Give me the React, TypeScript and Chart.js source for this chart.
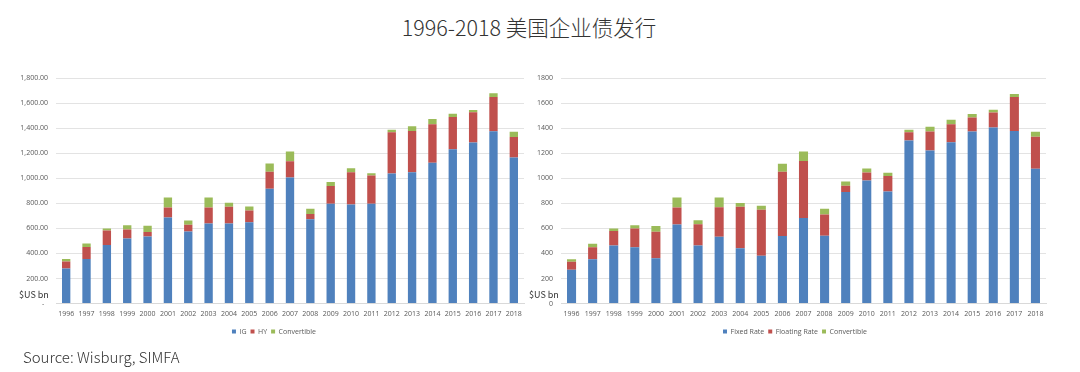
import React, { useEffect, useRef } from "react";
import { Chart, registerables } from "chart.js";

Chart.register(...registerables);

const TITLE = "1996-2018 美国企业债发行";
const SOURCE = "Source: Wisburg, SIMFA";
const UNIT = "$US bn";

const YEARS = ["1996","1997","1998","1999","2000","2001","2002","2003","2004","2005","2006","2007","2008","2009","2010","2011","2012","2013","2014","2015","2016","2017","2018"];

// Left chart: by credit quality
const IG = [280,356,467,520,536,687,576,640,640,650,916,1006,674,796,791,796,1038,1048,1123,1232,1285,1375,1165];
const HY = [55,95,117,72,35,80,53,127,132,93,135,130,40,143,257,226,329,329,308,257,242,273,165];
const CONV_LEFT = [20,29,16,34,50,80,34,79,32,32,66,77,42,32,32,19,21,38,42,26,18,30,42];

// Right chart: by coupon type
const FIXED = [270,354,463,450,362,632,463,534,441,381,539,682,542,891,983,894,1301,1221,1287,1374,1406,1377,1076];
const FLOATING = [63,96,116,150,211,135,171,235,331,367,513,455,169,50,64,124,66,153,143,111,119,272,256];
const CONV_RIGHT = [21,28,21,26,47,80,32,77,30,32,64,76,45,34,31,26,21,38,37,27,21,24,40];

const LEFT_TICK_LABELS = ["-  ","200.00","400.00","600.00","800.00","1,000.00","1,200.00","1,400.00","1,600.00","1,800.00"];
const RIGHT_TICK_LABELS = ["0","200","400","600","800","1000","1200","1400","1600","1800"];

const BLUE = "#4f81bd";
const RED = "#c0504d";
const GREEN = "#9bbb59";
const TICK_COLOR = "#595959";
const GRID_COLOR = "#e3e3e3";
const FONT = "'Open Sans', 'Noto Sans', sans-serif";

function makeConfig(
  names: string[],
  series: number[][],
  tickLabels: string[],
  yWidth: number,
  padRight: number,
  barPct: number,
  legendShift: number
): any {
  const colors = [BLUE, RED, GREEN];
  return {
    type: "bar",
    data: {
      labels: YEARS,
      datasets: series.map((d, i) => ({
        label: names[i],
        data: d,
        backgroundColor: colors[i],
        borderWidth: 0,
        barPercentage: barPct,
        categoryPercentage: 1,
      })),
    },
    plugins: [
      {
        id: "legendShift",
        afterLayout(chart: any) {
          const lg = chart.legend;
          if (lg) {
            lg.left += legendShift;
            lg.right += legendShift;
          }
        },
      },
    ],
    options: {
      responsive: false,
      animation: false,
      devicePixelRatio: 1,
      layout: { padding: { top: 13, right: padRight, bottom: 5, left: 0 } },
      plugins: {
        legend: {
          position: "bottom",
          labels: {
            boxWidth: 4,
            boxHeight: 4,
            padding: 4,
            color: TICK_COLOR,
            font: { size: 7, family: FONT },
          },
        },
        tooltip: { enabled: false },
        title: { display: false },
      },
      scales: {
        x: {
          stacked: true,
          grid: { display: false, drawTicks: false },
          border: { display: true, color: "#d9d9d9" },
          ticks: {
            color: TICK_COLOR,
            font: { size: 7, family: FONT },
            padding: 6,
            maxRotation: 0,
            autoSkip: false,
          },
        },
        y: {
          stacked: true,
          min: 0,
          max: 1800,
          grid: { color: GRID_COLOR, drawTicks: false },
          border: { display: false },
          afterFit: (scale: any) => {
            scale.width = yWidth;
          },
          ticks: {
            stepSize: 200,
            color: TICK_COLOR,
            font: { size: 7, family: FONT },
            padding: 8,
            callback: (_v: any, i: number) => tickLabels[i],
          },
        },
      },
    },
  };
}

function ChartBox(props: { config: any; left: number; top: number; width: number; height: number }) {
  const ref = useRef<HTMLCanvasElement | null>(null);
  useEffect(() => {
    if (!ref.current) return;
    const chart = new Chart(ref.current, props.config);
    return () => chart.destroy();
  }, []);
  return (
    <canvas
      ref={ref}
      width={props.width}
      height={props.height}
      style={{ position: "absolute", left: props.left, top: props.top, width: props.width, height: props.height }}
    />
  );
}

export default function App() {
  const leftConfig = makeConfig(["IG", "HY", "Convertible"], [IG, HY, CONV_LEFT], LEFT_TICK_LABELS, 56, 16, 0.41, 12);
  const rightConfig = makeConfig(["Fixed Rate", "Floating Rate", "Convertible"], [FIXED, FLOATING, CONV_RIGHT], RIGHT_TICK_LABELS, 31, 34, 0.43, 7);
  const textFont = "'Noto Sans CJK SC', 'Noto Sans', sans-serif";
  const unitStyle: any = {
    position: "absolute",
    top: 289,
    fontFamily: textFont,
    fontSize: 9,
    lineHeight: "12px",
    color: "#333",
  };
  return (
    <div style={{ position: "absolute", left: 0, top: 0, width: 1080, height: 372, background: "#fff", overflow: "hidden" }}>
      <div
        style={{
          position: "absolute",
          left: 0,
          top: 13,
          width: 1058,
          textAlign: "center",
          fontFamily: textFont,
          fontSize: 21.5,
          fontWeight: 300,
          lineHeight: "28px",
          color: "#333",
        }}
      >
        {TITLE}
      </div>
      <ChartBox config={leftConfig} left={0} top={65} width={540} height={285} />
      <ChartBox config={rightConfig} left={530} top={65} width={550} height={285} />
      <div style={{ ...unitStyle, left: 19 }}>{UNIT}</div>
      <div style={{ ...unitStyle, left: 529 }}>{UNIT}</div>
      <div
        style={{
          position: "absolute",
          left: 23,
          top: 346,
          fontFamily: textFont,
          fontSize: 15,
          fontWeight: 300,
          lineHeight: "21px",
          color: "#333",
        }}
      >
        {SOURCE}
      </div>
    </div>
  );
}
